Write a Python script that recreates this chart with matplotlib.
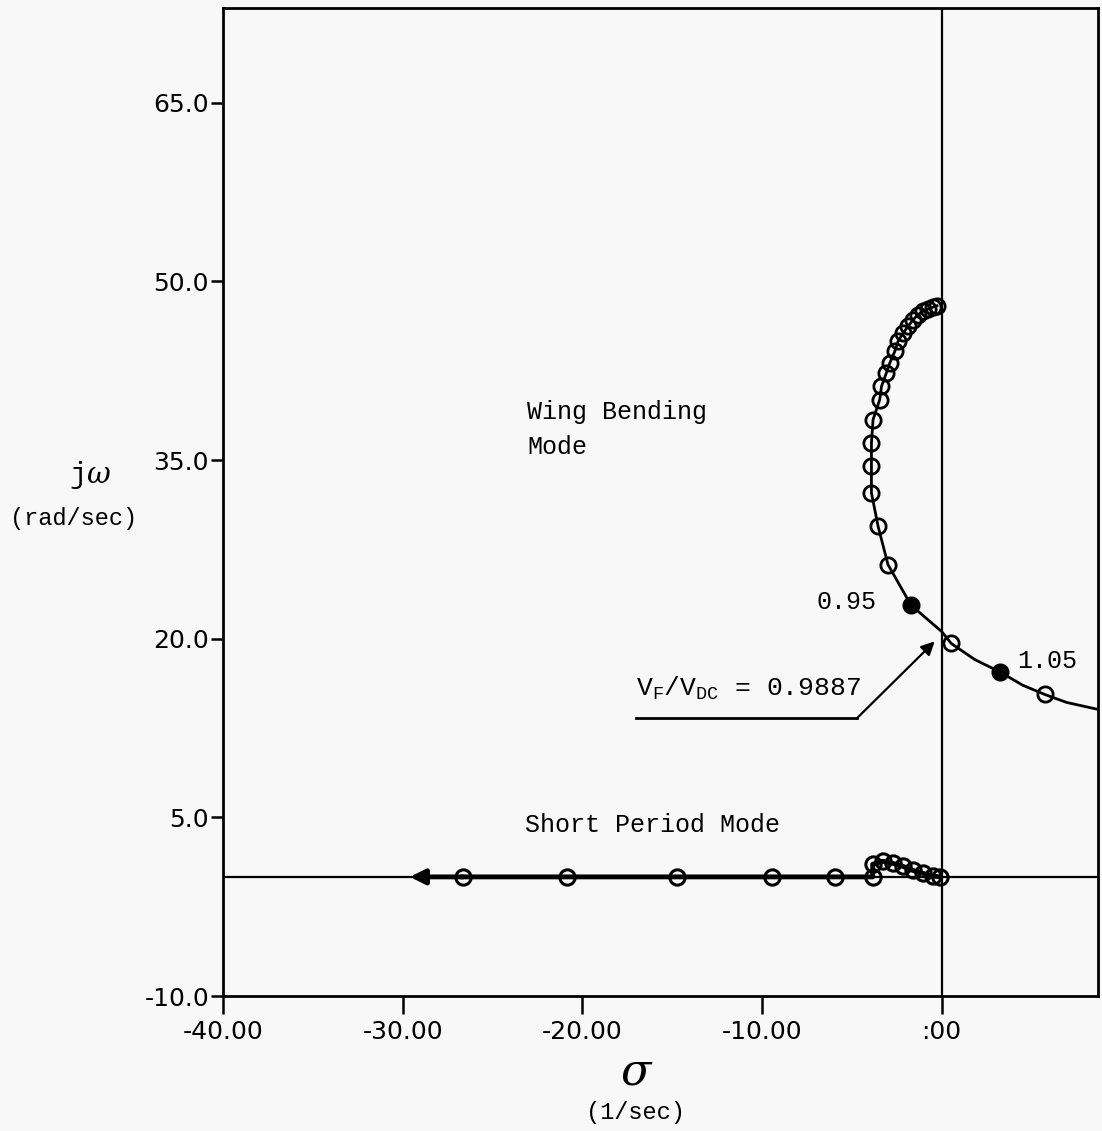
import matplotlib
matplotlib.use("Agg")
import matplotlib.pyplot as plt

# ---------------- data ----------------
x_ticks = [-40, -30, -20, -10, 0]
x_tick_labels = ['-40.00', '-30.00', '-20.00', '-10.00', ':00']
y_ticks = [-10, 5, 20, 35, 50, 65]
y_tick_labels = ['-10.0', '5.0', '20.0', '35.0', '50.0', '65.0']

# Wing bending mode locus (path of the drawn curve)
wb_path_sigma = [-0.26, -0.48, -0.76, -1.04, -1.32, -1.59, -1.87, -2.15, -2.43, -2.61,
                 -2.89, -3.08, -3.35, -3.45, -3.82, -3.91, -3.91, -3.91, -3.54, -2.99,
                 -1.70, 0.0, 0.53, 1.84, 3.25, 4.5, 5.73, 6.95, 8.7]
wb_path_omega = [47.95, 47.84, 47.68, 47.48, 47.20, 46.78, 46.22, 45.66, 44.96, 44.12,
                 43.14, 42.31, 41.18, 40.07, 38.39, 36.43, 34.47, 32.24, 29.44, 26.22,
                 22.80, 20.6, 19.6, 18.25, 17.2, 16.1, 15.32, 14.65, 14.06]
# open markers on the wing bending locus
wb_open_sigma = [-0.26, -0.48, -0.76, -1.04, -1.32, -1.59, -1.87, -2.15, -2.43, -2.61,
                 -2.89, -3.08, -3.35, -3.45, -3.82, -3.91, -3.91, -3.91, -3.54, -2.99,
                 0.53, 5.73]
wb_open_omega = [47.95, 47.84, 47.68, 47.48, 47.20, 46.78, 46.22, 45.66, 44.96, 44.12,
                 43.14, 42.31, 41.18, 40.07, 38.39, 36.43, 34.47, 32.24, 29.44, 26.22,
                 19.6, 15.32]
# filled markers (velocity ratios)
wb_gain_sigma = [-1.70, 3.25]
wb_gain_omega = [22.80, 17.2]
wb_gain_labels = ['0.95', '1.05']

# Short period mode locus
sp_sigma = [-0.10, -0.50, -1.06, -1.61, -2.17, -2.73, -3.28, -3.84, -3.84,
            -5.95, -9.45, -14.74, -20.86, -26.64]
sp_omega = [0.0, 0.08, 0.30, 0.55, 0.89, 1.14, 1.31, 1.06, 0.0,
            0.0, 0.0, 0.0, 0.0, 0.0]
sp_arrow_tip = (-29.6, 0.0)

flutter_label = r'V$_\mathregular{F}$/V$_\mathregular{DC}$ = 0.9887'
flutter_point = (-0.39, 19.77)

# ---------------- figure ----------------
plt.rcParams['mathtext.fontset'] = 'custom'
plt.rcParams['mathtext.rm'] = 'Liberation Mono'
plt.rcParams['mathtext.it'] = 'DejaVu Serif:italic'

fig = plt.figure(figsize=(11.02, 11.31), dpi=100)
fig.patch.set_facecolor('#f8f8f8')
ax = fig.add_axes([223/1102, 1-996/1131, (1098-223)/1102, (996-8)/1131])
ax.set_facecolor('#f8f8f8')
ax.set_xlim(-40, 8.7)
ax.set_ylim(-10, 72.95)

for s in ax.spines.values():
    s.set_linewidth(2.0)
    s.set_color('black')

ax.axhline(0, color='black', lw=1.6, zorder=1)
ax.axvline(0, color='black', lw=1.6, zorder=1)

tick_font = dict(family='DejaVu Sans', size=18)
ax.set_xticks(x_ticks)
ax.set_xticklabels(x_tick_labels, **tick_font)
ax.set_yticks(y_ticks)
ax.set_yticklabels(y_tick_labels, **tick_font)
ax.tick_params(axis='x', direction='out', length=13, width=1.8, pad=4)
ax.tick_params(axis='y', direction='out', length=9, width=1.8, pad=1)

# wing bending locus
ax.plot(wb_path_sigma, wb_path_omega, color='black', lw=2.0, zorder=3)
ax.plot(wb_open_sigma, wb_open_omega, ls='none', marker='o', ms=11,
        mfc='none', mec='black', mew=2.0, zorder=4)
ax.plot(wb_gain_sigma, wb_gain_omega, ls='none', marker='o', ms=12,
        mfc='black', mec='black', zorder=4)

# short period locus
ax.plot(sp_sigma, sp_omega, color='black', lw=3.5, zorder=3)
ax.plot(sp_sigma, sp_omega, ls='none', marker='o', ms=11,
        mfc='none', mec='black', mew=2.2, zorder=4)
ax.annotate('', xy=sp_arrow_tip, xytext=(sp_sigma[-1], 0.0),
            arrowprops=dict(arrowstyle='-|>', color='black', lw=3.5,
                            mutation_scale=22, shrinkA=0, shrinkB=0), zorder=3)

text_font = dict(family='Liberation Mono', size=18)
ax.text(-23.08, 37.55, 'Wing Bending\nMode', ha='left', va='center',
        linespacing=1.55, **text_font)
ax.text(-23.19, 4.33, 'Short Period Mode', ha='left', va='center', **text_font)
ax.text(-6.95, 23.1, wb_gain_labels[0], ha='left', va='center', **text_font)
ax.text(4.23, 18.09, wb_gain_labels[1], ha='left', va='center', **text_font)

# flutter annotation
ax.text(-17.02, 15.8, flutter_label, ha='left', va='center', family='Liberation Mono',
        size=19)
ax.plot([-17.0, -4.73], [13.3, 13.3], color='black', lw=2.0)
ax.annotate('', xy=flutter_point, xytext=(-4.73, 13.3),
            arrowprops=dict(arrowstyle='-|>', color='black', lw=1.6,
                            mutation_scale=20, shrinkA=0, shrinkB=0))

# axis labels
fig.text(90/1102, 1-475/1131, r'j$\omega$', ha='center', va='center',
         family='Liberation Mono', size=21)
fig.text(74/1102, 1-518/1131, '(rad/sec)', ha='center', va='center',
         family='Liberation Mono', size=17)
fig.text(637/1102, 1-1072/1131, r'$\sigma$', ha='center', va='center', size=32)
fig.text(635/1102, 1-1112/1131, '(1/sec)', ha='center', va='center',
         family='Liberation Mono', size=17)

fig.savefig('out.png', dpi=100, facecolor=fig.get_facecolor())
